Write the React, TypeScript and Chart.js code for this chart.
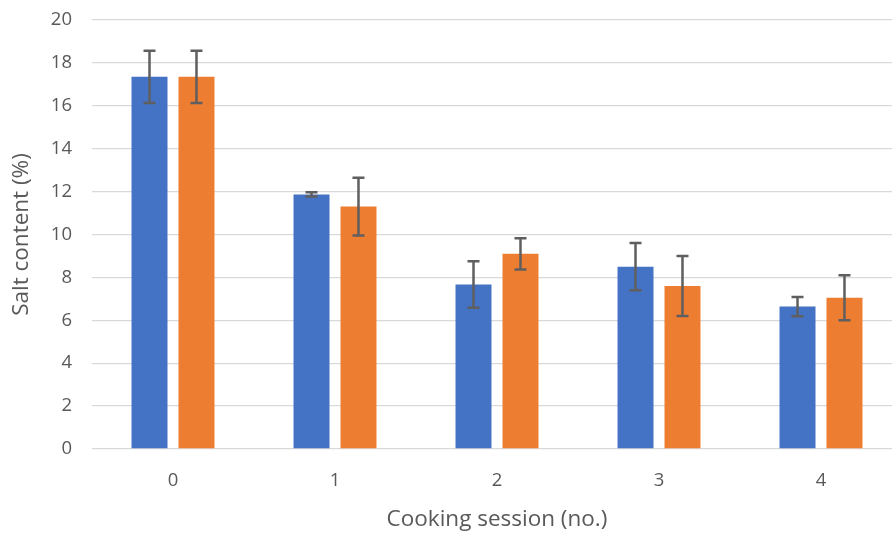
import React, { useEffect, useRef } from "react";
import { Chart, registerables } from "chart.js";

Chart.register(...registerables);

const categories = ["0", "1", "2", "3", "4"];
const blueValues = [17.35, 11.87, 7.67, 8.5, 6.64];
const blueErrors = [1.22, 0.1, 1.08, 1.1, 0.45];
const orangeValues = [17.35, 11.3, 9.1, 7.6, 7.05];
const orangeErrors = [1.22, 1.35, 0.73, 1.4, 1.05];
const yTicks = [0, 2, 4, 6, 8, 10, 12, 14, 16, 18, 20];

const errorsByDataset = [blueErrors, orangeErrors];

const errorBarPlugin = {
  id: "errorBars",
  afterDatasetsDraw(chart: any) {
    const ctx = chart.ctx;
    const yScale = chart.scales.y;
    ctx.save();
    ctx.strokeStyle = "#5f5f5f";
    ctx.lineWidth = 2.5;
    chart.data.datasets.forEach((ds: any, di: number) => {
      const meta = chart.getDatasetMeta(di);
      const errs = errorsByDataset[di];
      meta.data.forEach((el: any, i: number) => {
        const v = ds.data[i];
        const e = errs[i];
        const x = el.x;
        const yt = yScale.getPixelForValue(v + e);
        const yb = yScale.getPixelForValue(v - e);
        const cap = 6;
        ctx.beginPath();
        ctx.moveTo(x, yt);
        ctx.lineTo(x, yb);
        ctx.moveTo(x - cap, yt);
        ctx.lineTo(x + cap, yt);
        ctx.moveTo(x - cap, yb);
        ctx.lineTo(x + cap, yb);
        ctx.stroke();
      });
    });
    ctx.restore();
  },
};

export default function App() {
  const ref = useRef<HTMLCanvasElement>(null);
  useEffect(() => {
    const font = "'Open Sans', 'Liberation Sans', sans-serif";
    const chart = new Chart(ref.current!, {
      type: "bar",
      data: {
        labels: categories,
        datasets: [
          {
            label: "A",
            data: blueValues,
            backgroundColor: "#4472C4",
            categoryPercentage: 0.58,
            barPercentage: 0.766,
          },
          {
            label: "B",
            data: orangeValues,
            backgroundColor: "#ED7D31",
            categoryPercentage: 0.58,
            barPercentage: 0.766,
          },
        ],
      },
      options: {
        animation: false,
        responsive: false,
        maintainAspectRatio: false,
        layout: { padding: { top: 20, right: 0, left: 0, bottom: 0 } },
        plugins: { legend: { display: false }, tooltip: { enabled: false } },
        scales: {
          x: {
            grid: { display: false, drawTicks: false },
            border: { display: false },
            afterFit: (s: any) => {
              s.height = 84;
              s.paddingLeft = 0;
              s.paddingRight = 0;
            },
            ticks: { color: "#595959", font: { family: font, size: 18.5 }, padding: 21 },
            title: {
              display: true,
              text: "Cooking session (no.)",
              color: "#595959",
              font: { family: font, size: 22.5 },
              padding: { top: 4, bottom: 0 },
            },
          },
          y: {
            min: 0,
            max: 20,
            afterFit: (s: any) => {
              s.width = 92;
              s.paddingTop = 0;
              s.paddingBottom = 0;
            },
            afterBuildTicks: (s: any) => {
              s.ticks = yTicks.map((v) => ({ value: v }));
            },
            grid: { color: "#d9d9d9", lineWidth: 1.3, drawTicks: false },
            border: { display: false },
            ticks: { color: "#595959", font: { family: font, size: 18.5 }, padding: 20 },
            title: {
              display: true,
              text: "Salt content (%)",
              color: "#595959",
              font: { family: font, size: 22.5 },
              padding: { top: 8, bottom: 0 },
            },
          },
        },
      },
      plugins: [errorBarPlugin],
    });
    return () => chart.destroy();
  }, []);
  return (
    <div
      style={{
        position: "fixed",
        left: 0,
        top: 0,
        width: 892,
        height: 533,
        overflow: "hidden",
        background: "#fff",
      }}
    >
      <canvas ref={ref} width={902} height={533} style={{ width: 902, height: 533 }} />
    </div>
  );
}
